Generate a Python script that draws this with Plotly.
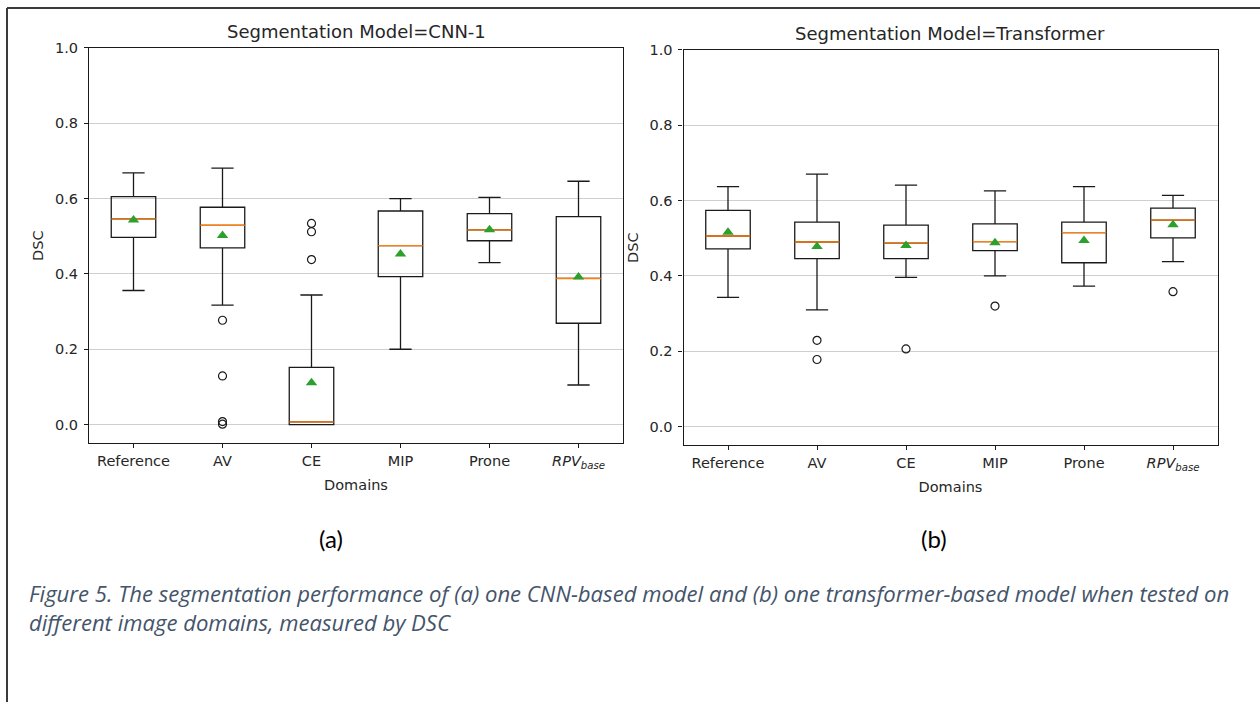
import plotly.graph_objects as go

W, H = 1260, 702

# Domain categories and their display labels
domains = ["Reference", "AV", "CE", "MIP", "Prone", "RPV_base"]
domain_labels = ["Reference", "AV", "CE", "MIP", "Prone", "<i>RPV</i><sub><i>base</i></sub>"]

# CNN-1 box statistics (DSC)
cnn_upper = [0.668, 0.681, 0.344, 0.600, 0.603, 0.646]
cnn_q3 = [0.605, 0.577, 0.152, 0.567, 0.560, 0.552]
cnn_median = [0.546, 0.529, 0.007, 0.475, 0.517, 0.388]
cnn_q1 = [0.497, 0.469, 0.000, 0.393, 0.488, 0.269]
cnn_lower = [0.356, 0.317, 0.000, 0.200, 0.430, 0.105]
cnn_mean = [0.543, 0.502, 0.111, 0.453, 0.517, 0.392]
cnn_out_x = ["AV", "AV", "AV", "AV", "CE", "CE", "CE"]
cnn_out_y = [0.277, 0.129, 0.008, 0.001, 0.534, 0.512, 0.438]

# Transformer box statistics (DSC)
tr_upper = [0.637, 0.670, 0.641, 0.626, 0.637, 0.614]
tr_q3 = [0.574, 0.543, 0.535, 0.538, 0.543, 0.580]
tr_median = [0.506, 0.490, 0.487, 0.491, 0.515, 0.548]
tr_q1 = [0.472, 0.446, 0.446, 0.467, 0.435, 0.501]
tr_lower = [0.343, 0.310, 0.396, 0.400, 0.373, 0.438]
tr_mean = [0.516, 0.478, 0.481, 0.488, 0.494, 0.536]
tr_out_x = ["AV", "AV", "CE", "MIP", "RPV_base"]
tr_out_y = [0.229, 0.178, 0.206, 0.320, 0.358]

BOX_COLOR = "#1a1a1a"
MEDIAN_COLOR = "#ff7f0e"
MEAN_COLOR = "#2ca02c"
TEXT_COLOR = "#262626"
FONT = "DejaVu Sans"
TICK_SIZE = 14.5

fig = go.Figure()


def add_panel(xa, ya, upper, q3, med, q1, lower, mean, out_x, out_y):
    # boxes with whiskers and caps
    fig.add_trace(go.Box(
        x=domains, q1=q1, median=med, q3=q3,
        lowerfence=lower, upperfence=upper,
        width=0.5, whiskerwidth=0.5,
        line=dict(color=BOX_COLOR, width=1.3),
        fillcolor="rgba(0,0,0,0)", boxpoints=False,
        xaxis=xa, yaxis=ya, showlegend=False, hoverinfo="skip",
    ))
    # orange median bars drawn as flat boxes on top
    fig.add_trace(go.Box(
        x=domains, q1=med, median=med, q3=med,
        lowerfence=med, upperfence=med,
        width=0.5, whiskerwidth=0,
        line=dict(color=MEDIAN_COLOR, width=1.4),
        fillcolor="rgba(0,0,0,0)", boxpoints=False,
        xaxis=xa, yaxis=ya, showlegend=False, hoverinfo="skip",
    ))
    # fliers
    fig.add_trace(go.Scatter(
        x=out_x, y=out_y, mode="markers",
        marker=dict(symbol="circle-open", size=8, color="#1a1a1a", line=dict(width=1.2)),
        xaxis=xa, yaxis=ya, showlegend=False, hoverinfo="skip",
    ))
    # means
    fig.add_trace(go.Scatter(
        x=domains, y=mean, mode="markers",
        marker=dict(symbol="triangle-up", size=10, color=MEAN_COLOR),
        xaxis=xa, yaxis=ya, showlegend=False, hoverinfo="skip",
    ))


add_panel("x", "y", cnn_upper, cnn_q3, cnn_median, cnn_q1, cnn_lower, cnn_mean, cnn_out_x, cnn_out_y)
add_panel("x2", "y2", tr_upper, tr_q3, tr_median, tr_q1, tr_lower, tr_mean, tr_out_x, tr_out_y)


def px_x(v):
    return v / W


def px_y(v):
    # pixel row measured from the top of the page -> paper fraction
    return 1 - ((v - 7) / 0.99) / H


def xaxis_cfg(left, right):
    return dict(
        domain=[px_x(left), px_x(right)], type="category",
        categoryorder="array", categoryarray=domains,
        tickmode="array", tickvals=domains, ticktext=domain_labels,
        range=[-0.5, 5.5], showgrid=False, zeroline=False,
        showline=True, mirror=True, linecolor=BOX_COLOR, linewidth=1.2,
        ticks="outside", ticklen=4, tickcolor=BOX_COLOR, tickwidth=1,
        tickfont=dict(family=FONT, size=TICK_SIZE, color=TEXT_COLOR),
        title=dict(text="Domains", font=dict(family=FONT, size=TICK_SIZE, color=TEXT_COLOR), standoff=9),
    )


def yaxis_cfg(top, bottom, anchor):
    return dict(
        domain=[px_y(bottom), px_y(top)], anchor=anchor,
        range=[-0.05, 1.0], tick0=0, dtick=0.2, tickformat=".1f",
        showgrid=True, gridcolor="#cfcfcf", gridwidth=1, zeroline=False,
        showline=True, mirror=True, linecolor=BOX_COLOR, linewidth=1.2,
        ticks="outside", ticklen=4, tickcolor=BOX_COLOR, tickwidth=1,
        ticklabelstandoff=3,
        tickfont=dict(family=FONT, size=TICK_SIZE, color=TEXT_COLOR),
        title=dict(text="DSC", font=dict(family=FONT, size=TICK_SIZE, color=TEXT_COLOR), standoff=7),
    )


fig.update_layout(
    width=W, height=H, autosize=False,
    margin=dict(l=0, r=0, t=0, b=0),
    paper_bgcolor="white", plot_bgcolor="white",
    boxmode="overlay",
    xaxis=dict(xaxis_cfg(89, 623), anchor="y"),
    yaxis=yaxis_cfg(47, 443, "x"),
    xaxis2=dict(xaxis_cfg(683.5, 1217.5), anchor="y2"),
    yaxis2=yaxis_cfg(49, 445, "x2"),
)

# panel titles
for cx, cy, txt in [(356, 31, "Segmentation Model=CNN-1"), (950, 33, "Segmentation Model=Transformer")]:
    fig.add_annotation(x=px_x(cx), y=px_y(cy), xref="paper", yref="paper",
                       text=txt, showarrow=False, xanchor="center", yanchor="middle",
                       font=dict(family=FONT, size=18, color=TEXT_COLOR))

# panel letters
for cx, txt in [(331, "(a)"), (934, "(b)")]:
    fig.add_annotation(x=px_x(cx), y=px_y(538), xref="paper", yref="paper",
                       text=txt, showarrow=False, xanchor="center", yanchor="middle",
                       font=dict(family="Lato", size=24, color="black"))

# figure caption
fig.add_annotation(
    x=px_x(27), y=px_y(576), xref="paper", yref="paper",
    text="<i>Figure 5. The segmentation performance of (a) one CNN-based model and (b) one "
         "transformer-based model when tested on<br>different image domains, measured by DSC</i>",
    showarrow=False, xanchor="left", yanchor="top", align="left",
    font=dict(family="Open Sans", size=22.1, color="#44546A"),
)

# page frame (left and top edges)
frame = dict(type="line", xref="paper", yref="paper", line=dict(color="#3a3a3a", width=2))
fig.add_shape(x0=px_x(7), x1=px_x(7), y0=0, y1=px_y(7), **frame)
fig.add_shape(x0=px_x(7), x1=1, y0=px_y(7), y1=px_y(7), **frame)

fig.write_html("out.html")
